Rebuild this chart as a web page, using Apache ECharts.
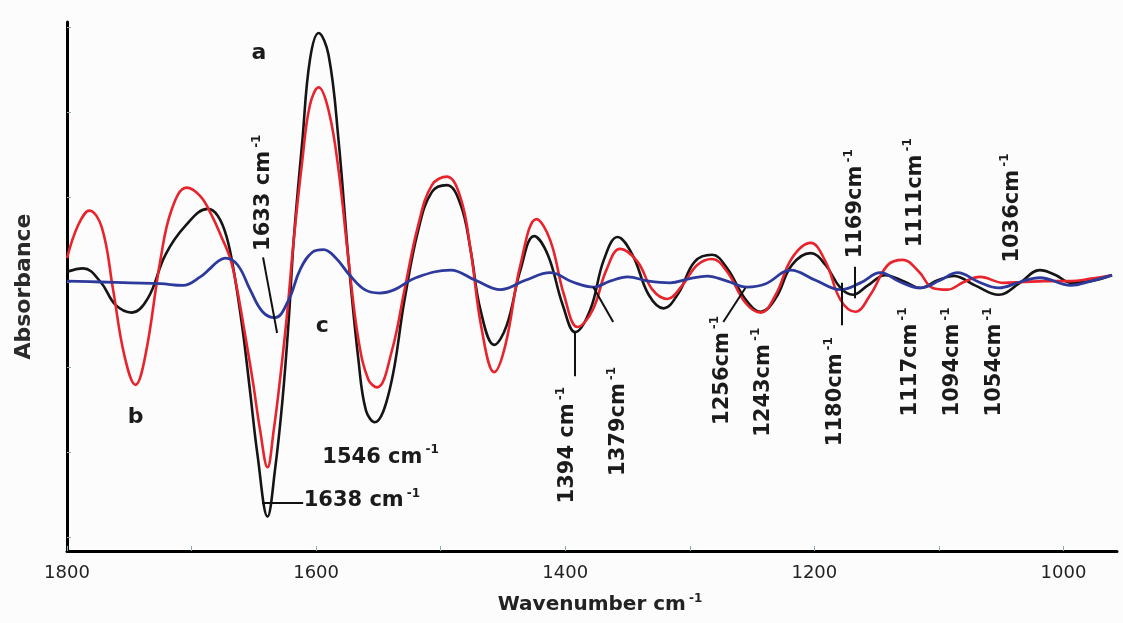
<!DOCTYPE html>
<html>
<head>
<meta charset="utf-8">
<title>Second derivative spectra</title>
<script src="https://cdn.jsdelivr.net/npm/echarts@6/dist/echarts.min.js"></script>
<style>
  html, body { margin: 0; padding: 0; background: #fcfcfd; }
  #chart { width: 1123px; height: 623px; }
</style>
</head>
<body>
<div id="chart"></div>
<script>
// [wavenumber cm-1, absorbance (arb.)]
var curveA = [
  [1800, 0.12], [1787, 0.16], [1773, 0], [1761, -0.27], [1748, -0.36], [1735, -0.19],
  [1721, 0.32], [1705, 0.66], [1687, 0.86], [1679, 0.78], [1672, 0.54], [1666, 0.12],
  [1659, -0.56], [1653, -1.29], [1647, -2.04], [1639, -2.76], [1633, -2.21], [1627, -1.39],
  [1622, -0.45], [1618, 0.49], [1611, 1.67], [1605, 2.61], [1598, 2.93], [1590, 2.67],
  [1582, 1.67], [1574, 0.26], [1566, -0.92], [1560, -1.51], [1553, -1.65], [1541, -1.27],
  [1529, -0.21], [1518, 0.61], [1507, 1.06], [1495, 1.14], [1484, 0.91], [1476, 0.38],
  [1468, -0.33], [1457, -0.74], [1447, -0.51], [1436, 0.14], [1425, 0.54], [1414, 0.32],
  [1402, -0.27], [1392, -0.59], [1380, -0.33], [1369, 0.26], [1358, 0.53], [1346, 0.32],
  [1333, -0.15], [1321, -0.31], [1309, -0.13], [1296, 0.24], [1282, 0.32], [1270, 0.16],
  [1255, -0.21], [1243, -0.35], [1231, -0.19], [1218, 0.20], [1203, 0.34], [1191, 0.20],
  [1179, -0.07], [1169, -0.15], [1157, -0.04], [1143, 0.08], [1127, 0], [1115, -0.07],
  [1101, 0.02], [1088, 0.07], [1071, -0.04], [1052, -0.15], [1035, -0.01], [1019, 0.14],
  [1006, 0.08], [994, -0.01], [978, 0.01], [961, 0.08]
];
var curveB = [
  [1800, 0.28], [1791, 0.67], [1782, 0.84], [1772, 0.64], [1763, -0.09], [1754, -0.86],
  [1745, -1.21], [1737, -0.86], [1725, 0.26], [1716, 0.85], [1704, 1.11], [1693, 1.01],
  [1684, 0.79], [1676, 0.53], [1669, 0.28], [1664, -0.04], [1659, -0.45], [1651, -1.15],
  [1645, -1.74], [1639, -2.18], [1634, -1.74], [1629, -1.15], [1623, -0.33], [1618, 0.49],
  [1611, 1.44], [1605, 2.08], [1598, 2.29], [1590, 2.02], [1582, 1.32], [1574, 0.26],
  [1566, -0.68], [1558, -1.15], [1551, -1.24], [1539, -0.80], [1529, -0.09], [1518, 0.67],
  [1507, 1.14], [1495, 1.24], [1484, 0.99], [1476, 0.38], [1467, -0.56], [1457, -1.06],
  [1448, -0.74], [1436, 0.20], [1423, 0.74], [1412, 0.49], [1401, -0.15], [1390, -0.53],
  [1378, -0.33], [1367, 0.14], [1356, 0.39], [1342, 0.24], [1330, -0.09], [1318, -0.20],
  [1306, -0.04], [1294, 0.20], [1282, 0.27], [1270, 0.12], [1255, -0.25], [1243, -0.36],
  [1231, -0.15], [1218, 0.28], [1203, 0.46], [1191, 0.24], [1179, -0.21], [1167, -0.35],
  [1155, -0.15], [1141, 0.20], [1129, 0.26], [1116, 0.12], [1105, -0.07], [1093, -0.09],
  [1080, 0], [1067, 0.06], [1048, -0.01], [1032, 0], [1015, 0.01], [994, 0.01],
  [978, 0.04], [961, 0.08]
];
var curveC = [
  [1800, 0.01], [1773, 0], [1749, -0.01], [1725, -0.02], [1707, -0.04], [1693, 0.06],
  [1685, 0.16], [1679, 0.24], [1673, 0.28], [1663, 0.20], [1653, -0.09], [1643, -0.35],
  [1633, -0.42], [1622, -0.21], [1613, 0.14], [1603, 0.35], [1594, 0.38], [1584, 0.28],
  [1573, 0.08], [1561, -0.09], [1549, -0.13], [1537, -0.09], [1520, 0.05], [1492, 0.14],
  [1472, 0.02], [1452, -0.09], [1432, 0.02], [1412, 0.11], [1394, 0], [1377, -0.06],
  [1364, 0.01], [1350, 0.06], [1333, 0.01], [1316, -0.01], [1300, 0.04], [1286, 0.07],
  [1270, 0.01], [1254, -0.06], [1239, -0.02], [1219, 0.14], [1199, 0.02], [1179, -0.09],
  [1163, -0.01], [1147, 0.11], [1131, 0], [1115, -0.07], [1099, 0.02], [1085, 0.11],
  [1068, 0], [1052, -0.07], [1035, 0], [1019, 0.05], [994, -0.04], [978, 0.01], [961, 0.08]
];

var xLabels = [1800, 1600, 1400, 1200, 1000];
var xTicks = [1800, 1700, 1600, 1500, 1400, 1300, 1200, 1100, 1000];
var yTicks = [-3, -2, -1, 0, 1, 2, 3];

// peak annotations: text, anchor in data units
var notes = [
  { text: 'a', x: 1646, y: 2.69 },
  { text: 'b', x: 1745, y: -1.59 },
  { text: 'c', x: 1595, y: -0.52 },
  { text: '1633 cm', sup: '-1', x: 1642, y: 1.05, rotate: 90 },
  { text: '1638 cm', sup: '-1', x: 1610, y: -2.57, align: 'left' },
  { text: '1546 cm', sup: '-1', x: 1595, y: -2.06, align: 'left' },
  { text: '1394 cm', sup: '-1', x: 1398, y: -1.92, rotate: 90 },
  { text: '1379cm', sup: '-1', x: 1357, y: -1.64, rotate: 90 },
  { text: '1256cm', sup: '-1', x: 1274, y: -1.04, rotate: 90 },
  { text: '1243cm', sup: '-1', x: 1241, y: -1.18, rotate: 90 },
  { text: '1180cm', sup: '-1', x: 1183, y: -1.29, rotate: 90 },
  { text: '1169cm', sup: '-1', x: 1167, y: 0.92, rotate: 90 },
  { text: '1111cm', sup: '-1', x: 1119, y: 1.05, rotate: 90 },
  { text: '1036cm', sup: '-1', x: 1041, y: 0.87, rotate: 90 },
  { text: '1117cm', sup: '-1', x: 1123, y: -0.94, rotate: 90 },
  { text: '1094cm', sup: '-1', x: 1089, y: -0.94, rotate: 90 },
  { text: '1054cm', sup: '-1', x: 1055, y: -0.94, rotate: 90 }
];
var leaders = [
  [[1642.6, 0.29], [1631.3, -0.60]],
  [[1643.4, -2.60], [1610.4, -2.60]],
  [[1392, -0.59], [1392, -1.11]],
  [[1377.5, -0.06], [1361.5, -0.47]],
  [[1273.1, -0.47], [1255.4, -0.07]],
  [[1178.3, -0.01], [1178.3, -0.51]],
  [[1167.9, 0.18], [1167.9, -0.19]]
];

var font = 'DejaVu Sans';
var ink = '#1b1b1b';

var myChart = echarts.init(document.getElementById('chart'), null, { renderer: 'canvas' });

var richNote = {
  t: { fontFamily: font, fontWeight: 'bold', fontSize: 21, color: ink, lineHeight: 26 },
  s: { fontFamily: font, fontWeight: 'bold', fontSize: 12, color: ink, verticalAlign: 'top', lineHeight: 12, padding: [0, 0, 0, 3] },
  l: { fontFamily: font, fontWeight: 'bold', fontSize: 22, color: ink }
};

var markPoints = notes.map(function (n) {
  return {
    coord: [n.x, n.y],
    symbol: 'circle',
    symbolSize: 0,
    label: {
      show: true,
      position: 'inside',
      rotate: n.rotate || 0,
      align: n.align || 'center',
      verticalAlign: 'middle',
      formatter: n.sup ? '{t|' + n.text + '}{s|' + n.sup + '}' : '{l|' + n.text + '}',
      rich: richNote
    }
  };
});

var markLines = leaders.map(function (seg) {
  return [{ coord: seg[0] }, { coord: seg[1] }];
});

function curve(name, data, color, width) {
  return {
    name: name,
    type: 'line',
    data: data,
    smooth: 0.4,
    symbol: 'none',
    lineStyle: { color: color, width: width },
    itemStyle: { color: color },
    z: 2
  };
}

var series = [
  curve('a', curveA, '#151515', 2.6),
  curve('b', curveB, '#e8232b', 2.6),
  curve('c', curveC, '#2d3a9c', 2.8)
];
series.push({
  name: 'notes',
  type: 'scatter',
  data: [],
  silent: true,
  z: 3,
  markPoint: { silent: true, data: markPoints, animation: false },
  markLine: {
    silent: true,
    symbol: ['none', 'none'],
    label: { show: false },
    lineStyle: { color: '#111', width: 2, type: 'solid' },
    emphasis: { disabled: true },
    data: markLines,
    animation: false
  }
});

var option = {
  backgroundColor: '#fcfcfd',
  animation: false,
  grid: { left: 67, right: 6, top: 22, bottom: 72, outerBoundsMode: 'none' },
  xAxis: {
    type: 'value',
    inverse: true,
    min: 957,
    max: 1800,
    name: '{t|Wavenumber cm}{s|-1}',
    nameLocation: 'middle',
    nameGap: 42,
    nameTextStyle: {
      padding: [0, 0, 0, 16],
      rich: {
        t: { fontFamily: font, fontWeight: 'bold', fontSize: 20, color: '#222', lineHeight: 24 },
        s: { fontFamily: font, fontWeight: 'bold', fontSize: 12, color: '#222', verticalAlign: 'top', lineHeight: 12, padding: [0, 0, 0, 3] }
      }
    },
    axisLine: { onZero: false, lineStyle: { color: '#000', width: 3 } },
    axisTick: { inside: true, length: 5, customValues: xTicks, lineStyle: { color: '#8fa6b3', width: 1 } },
    axisLabel: {
      customValues: xLabels,
      margin: 13,
      fontFamily: font,
      fontSize: 18,
      color: '#222',
      formatter: function (v) { return String(v); }
    },
    splitLine: { show: false }
  },
  yAxis: {
    type: 'value',
    min: -3.165,
    max: 3.059,
    name: 'Absorbance',
    nameLocation: 'middle',
    nameGap: 32,
    nameTextStyle: { fontFamily: font, fontWeight: 'bold', fontSize: 22, color: '#2a2a2a' },
    axisLine: { show: true, onZero: false, lineStyle: { color: '#000', width: 3 } },
    axisTick: { show: true, inside: true, length: 4, customValues: yTicks, lineStyle: { color: '#8fa6b3', width: 1 } },
    axisLabel: { show: false },
    splitLine: { show: false }
  },
  series: series
};

myChart.setOption(option);

window.addEventListener('resize', function () {
  myChart.resize();
});
</script>
</body>
</html>
